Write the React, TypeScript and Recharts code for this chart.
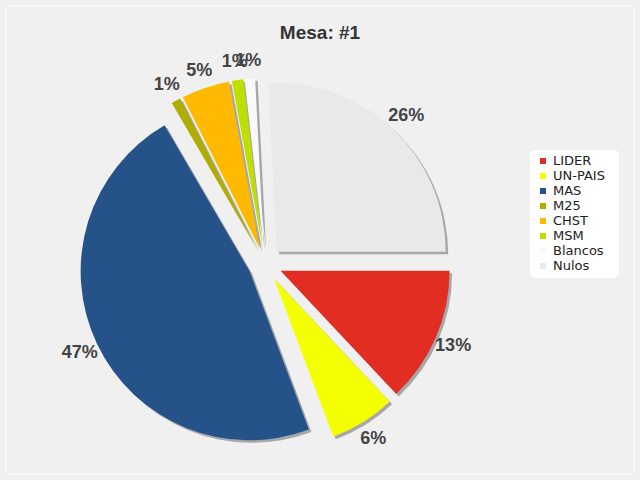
import React from 'react';
import { PieChart, Pie, Cell, Sector, Legend } from 'recharts';

const PARTIES = ['LIDER', 'UN-PAIS', 'MAS', 'M25', 'CHST', 'MSM', 'Blancos', 'Nulos'];
const SHARES = [13.0, 6.3, 47.3, 0.9, 4.6, 1.1, 1.0, 25.8];
const COLORS = ['#e12d22', '#f4ff00', '#245289', '#b1ad00', '#ffb900', '#bfdf00', '#f9f9f9', '#e9e9e9'];

const data = PARTIES.map((name, i) => ({ name, value: SHARES[i] }));

const RAD = Math.PI / 180;
const GAP = 17; // slice explode distance
const LABEL_R = 205;

// draws each exploded slice (with its shadow) plus the % label
const renderSlice = (props: any) => {
  const { cx, cy, outerRadius, startAngle, endAngle, percent, index } = props;
  const mid = (startAngle + endAngle) / 2;
  const ux = Math.cos(-mid * RAD);
  const uy = Math.sin(-mid * RAD);
  const sx = cx + GAP * ux;
  const sy = cy + GAP * uy;
  return (
    <g key={`slice-${index}`}>
      <Sector
        cx={sx + 2.5}
        cy={sy + 2.5}
        innerRadius={0}
        outerRadius={outerRadius}
        startAngle={startAngle}
        endAngle={endAngle}
        fill="#000"
        fillOpacity={0.3}
      />
      <Sector
        cx={sx}
        cy={sy}
        innerRadius={0}
        outerRadius={outerRadius}
        startAngle={startAngle}
        endAngle={endAngle}
        fill={COLORS[index]}
      />
      <text
        x={cx + LABEL_R * ux}
        y={cy + LABEL_R * uy}
        textAnchor="middle"
        dominantBaseline="central"
        fill="#444"
        fontSize={18}
        fontWeight="bold"
        fontFamily="'Liberation Sans', Arial, sans-serif"
      >
        {`${Math.round(percent * 100)}%`}
      </text>
    </g>
  );
};

// legend keeps the series order (recharts would sort it by name)
const LegendBox = () => (
  <div
    style={{
      background: '#fff',
      borderRadius: 5,
      padding: '3px 0 5px 10px',
      boxSizing: 'border-box',
      width: 89,
      fontFamily: "'DejaVu Sans', Verdana, sans-serif",
      fontSize: 13,
      color: '#222',
    }}
  >
    {PARTIES.map((name, i) => (
      <div key={name} style={{ height: 15, lineHeight: '15px', display: 'flex', alignItems: 'center' }}>
        <span style={{ width: 6, height: 6, background: COLORS[i], marginRight: 7, display: 'inline-block' }} />
        <span>{name}</span>
      </div>
    ))}
  </div>
);

export default function App() {
  return (
    <div style={{ position: 'absolute', left: 0, top: 0, width: 640, height: 480, background: '#f0f0f0' }}>
      <div
        style={{
          position: 'absolute',
          left: 5,
          top: 5,
          width: 628,
          height: 468,
          border: '1.5px solid #fbfbfb',
          borderRadius: 6,
          boxShadow: '0 0 1px #d8d8d8',
        }}
      />
      <div
        style={{
          position: 'absolute',
          left: 0,
          top: 20,
          width: 640,
          textAlign: 'center',
          fontFamily: "'Liberation Sans', Arial, sans-serif",
          fontWeight: 'bold',
          fontSize: 19,
          color: '#333',
          lineHeight: '26px',
        }}
      >
        Mesa: #1
      </div>
      <div style={{ position: 'absolute', left: 0, top: 0 }}>
        <PieChart width={640} height={480}>
          <Pie
            data={data}
            dataKey="value"
            nameKey="name"
            cx={260}
            cy={259}
            outerRadius={169}
            startAngle={0}
            endAngle={-360}
            labelLine={false}
            label={renderSlice}
            stroke="none"
            isAnimationActive={false}
          >
            {data.map((d, i) => (
              <Cell key={d.name} fill={COLORS[i]} fillOpacity={0} stroke="none" />
            ))}
          </Pie>
          <Legend
            layout="vertical"
            align="right"
            verticalAlign="middle"
            content={<LegendBox />}
            wrapperStyle={{ left: 530, top: 150, right: 'auto', bottom: 'auto', width: 89 }}
          />
        </PieChart>
      </div>
    </div>
  );
}
